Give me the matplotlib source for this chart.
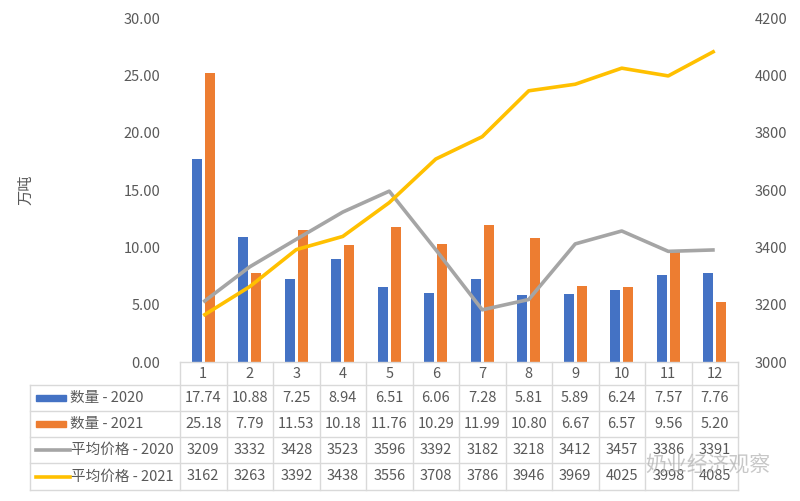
import numpy as np
import matplotlib.pyplot as plt
from matplotlib.lines import Line2D

plt.rcParams['font.family'] = ['Noto Sans CJK SC', 'DejaVu Sans']

# -----------------------------
# data
# -----------------------------
months = ["1", "2", "3", "4", "5", "6", "7", "8", "9", "10", "11", "12"]
qty_2020 = [17.74, 10.88, 7.25, 8.94, 6.51, 6.06, 7.28, 5.81, 5.89, 6.24, 7.57, 7.76]
qty_2021 = [25.18, 7.79, 11.53, 10.18, 11.76, 10.29, 11.99, 10.80, 6.67, 6.57, 9.56, 5.20]
price_2020 = [3209, 3332, 3428, 3523, 3596, 3392, 3182, 3218, 3412, 3457, 3386, 3391]
price_2021 = [3162, 3263, 3392, 3438, 3556, 3708, 3786, 3946, 3969, 4025, 3998, 4085]

series_names = ["数量 - 2020", "数量 - 2021", "平均价格 - 2020", "平均价格 - 2021"]
blue, orange, gray, yellow = "#4472C4", "#ED7D31", "#A5A5A5", "#FFC000"
txt = "#595959"
grid_c = "#D9D9D9"

W, H = 800, 501
fig = plt.figure(figsize=(8, 5.01), dpi=100)
fig.patch.set_facecolor("white")

# plot area in pixels
x0, x1 = 180, 738
y_top, y_bot = 18, 362
ax = fig.add_axes([x0 / W, 1 - y_bot / H, (x1 - x0) / W, (y_bot - y_top) / H])
ax2 = ax.twinx()

n = len(months)
x = np.arange(n)
bw = 0.22
ax.bar(x - bw / 2 - 0.03, qty_2020, bw, color=blue, zorder=2)
ax.bar(x + bw / 2 + 0.03, qty_2021, bw, color=orange, zorder=2)
ax.set_xlim(-0.5, n - 0.5)
ax.set_ylim(0, 30)
ax.set_yticks(np.arange(0, 31, 5))
ax.set_yticklabels([f"{v:.2f}" for v in np.arange(0, 31, 5)])
ax.set_xticks([])

ax2.plot(x, price_2020, color=gray, lw=2.6, zorder=3, solid_capstyle="butt")
ax2.plot(x, price_2021, color=yellow, lw=2.6, zorder=3, solid_capstyle="butt")
ax2.set_ylim(3000, 4200)
ax2.set_yticks(np.arange(3000, 4201, 200))

for a in (ax, ax2):
    for s in a.spines.values():
        s.set_visible(False)
    a.tick_params(length=0, labelsize=10.5, colors=txt)
ax.tick_params(axis="y", pad=14)
ax2.tick_params(axis="y", pad=12)

ax.set_ylabel("万吨", fontsize=11, color=txt, labelpad=64)

# -----------------------------
# data table
# -----------------------------
col_w = (x1 - x0) / n
lab_x0 = 30
row_edges = [362, 385, 411, 437, 463, 490]


def fx(px):
    return px / W


def fy(py):
    return 1 - py / H


# horizontal lines
fig.add_artist(Line2D([fx(x0), fx(x1)], [fy(row_edges[0])] * 2, color=grid_c, lw=1))
for r in row_edges[1:]:
    fig.add_artist(Line2D([fx(lab_x0), fx(x1)], [fy(r)] * 2, color=grid_c, lw=1))
# vertical lines
for i in range(n + 1):
    xp = x0 + i * col_w
    fig.add_artist(Line2D([fx(xp)] * 2, [fy(row_edges[0]), fy(row_edges[-1])], color=grid_c, lw=1))
fig.add_artist(Line2D([fx(lab_x0)] * 2, [fy(row_edges[1]), fy(row_edges[-1])], color=grid_c, lw=1))

# month header
yc = (row_edges[0] + row_edges[1]) / 2
for i, m in enumerate(months):
    fig.text(fx(x0 + (i + 0.5) * col_w), fy(yc), m, ha="center", va="center", fontsize=10.5, color=txt)

rows = [
    [f"{v:.2f}" for v in qty_2020],
    [f"{v:.2f}" for v in qty_2021],
    [f"{v}" for v in price_2020],
    [f"{v}" for v in price_2021],
]
for r, vals in enumerate(rows):
    yc = (row_edges[r + 1] + row_edges[r + 2]) / 2
    for i, v in enumerate(vals):
        fig.text(fx(x0 + (i + 0.5) * col_w), fy(yc), v, ha="center", va="center", fontsize=10.5, color=txt)

# legend keys in label column
keys = [("bar", blue), ("bar", orange), ("line", gray), ("line", yellow)]
for r, (kind, c) in enumerate(keys):
    yc = (row_edges[r + 1] + row_edges[r + 2]) / 2
    if kind == "bar":
        fig.add_artist(plt.Rectangle((fx(36), fy(yc + 3)), (66 - 36) / W, 6 / H, color=c, transform=fig.transFigure))
        fig.text(fx(70), fy(yc), series_names[r], ha="left", va="center", fontsize=10.5, color=txt)
    else:
        fig.add_artist(Line2D([fx(36), fx(70)], [fy(yc)] * 2, color=c, lw=2.6))
        fig.text(fx(71), fy(yc), series_names[r], ha="left", va="center", fontsize=10.5, color=txt)

# watermark
fig.text(fx(645), fy(466), "奶业经济观察", ha="left", va="center", fontsize=15, color="#B0B0B0", alpha=0.7)

plt.savefig("out.png", dpi=100, facecolor="white")
plt.close()
